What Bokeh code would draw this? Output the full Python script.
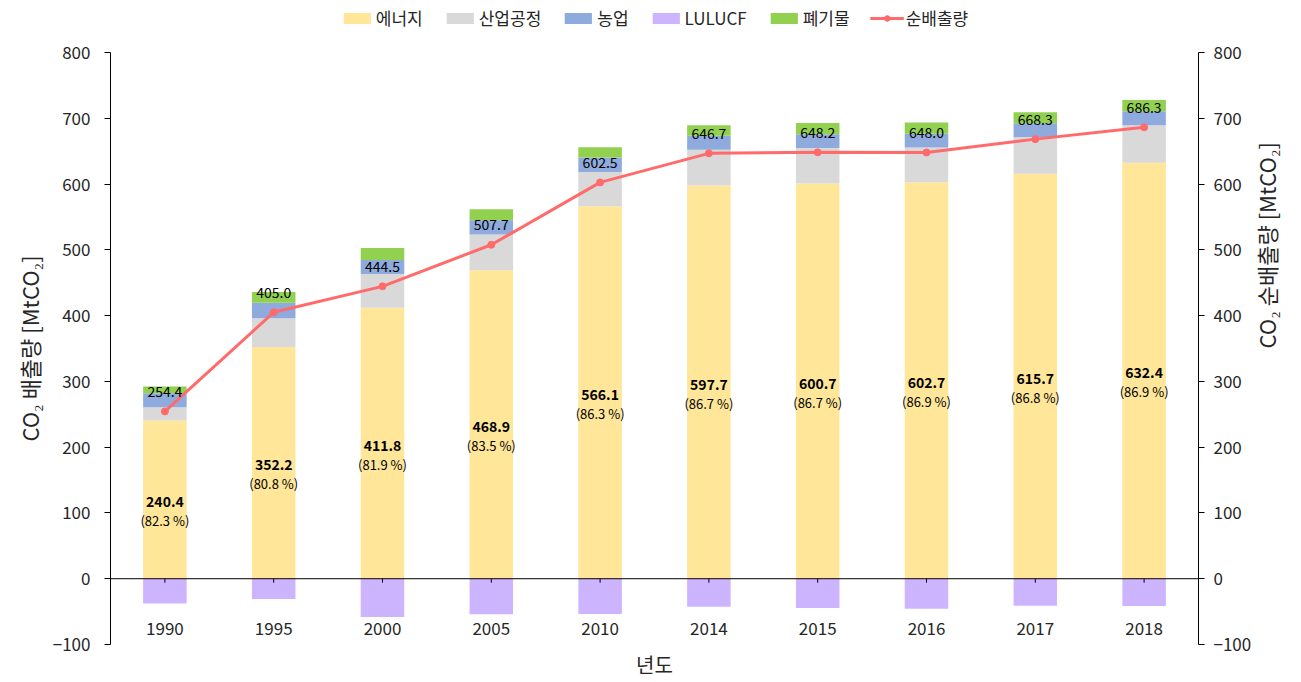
import math
from bokeh.plotting import figure
from bokeh.layouts import column
from bokeh.models import (FactorRange, Range1d, LinearAxis, Legend, LegendItem,
                          Span, ColumnDataSource, FixedTicker, Title)
from bokeh.core.properties import value
from bokeh.embed import file_html
from bokeh.resources import INLINE

years = ['1990', '1995', '2000', '2005', '2010', '2014', '2015', '2016', '2017', '2018']
energy = [240.4, 352.2, 411.8, 468.9, 566.1, 597.7, 600.7, 602.7, 615.7, 632.4]
industrial = [20.4, 43.9, 51.3, 54.5, 52.3, 54.6, 54.1, 52.8, 55.8, 57.0]
agriculture = [21.0, 23.6, 21.4, 21.7, 22.0, 21.3, 21.0, 20.8, 21.0, 21.2]
waste = [10.4, 16.2, 18.3, 16.5, 15.6, 15.8, 17.0, 17.3, 16.8, 17.1]
lulucf = [-37.8, -30.9, -58.3, -53.9, -53.5, -42.7, -44.6, -45.6, -41.0, -41.4]
net = [254.4, 405.0, 444.5, 507.7, 602.5, 646.7, 648.2, 648.0, 668.3, 686.3]
energy_share = [82.3, 80.8, 81.9, 83.5, 86.3, 86.7, 86.7, 86.9, 86.8, 86.9]
y_ticks = list(range(-100, 801, 100))
Y_MIN, Y_MAX = -100, 800

FONT = "Noto Sans CJK KR"
TXT = "#262626"
C_ENERGY, C_IND, C_AGRI, C_LULUCF, C_WASTE, C_NET = (
    "#FFE699", "#D9D9D9", "#8FAADC", "#CDB4FF", "#92D050", "#FF6B6B")

src = ColumnDataSource(dict(
    year=years, energy=energy, industrial=industrial, agriculture=agriculture,
    waste=waste, lulucf=lulucf, net=net,
    energy_mid=[e / 2 for e in energy],
    energy_txt=[f"{e:.1f}" for e in energy],
    share_txt=[f"({s:.1f} %)" for s in energy_share],
    net_txt=[f"{n:.1f}" for n in net],
    zero=[0] * len(years),
    tick_end=[-6] * len(years),
))

xr = FactorRange(*years)
p = figure(x_range=xr, y_range=Range1d(Y_MIN, Y_MAX),
           frame_width=1088, frame_height=592,
           output_backend="svg", toolbar_location=None,
           min_border_left=110, min_border_right=95, min_border_top=12,
           min_border_bottom=30)
p.extra_y_ranges = {"net": Range1d(Y_MIN, Y_MAX)}
p.xgrid.grid_line_color = None
p.ygrid.grid_line_color = None
p.outline_line_color = None
p.background_fill_color = "white"


def style_axis(ax, label_standoff, title_standoff):
    ax.ticker = FixedTicker(ticks=y_ticks)
    ax.axis_label_text_font = FONT
    ax.axis_label_text_font_size = "22px"
    ax.axis_label_text_font_style = "normal"
    ax.axis_label_text_color = TXT
    ax.axis_label_standoff = title_standoff
    ax.major_label_text_font = FONT
    ax.major_label_text_font_size = "17px"
    ax.major_label_text_color = TXT
    ax.major_tick_out = 6
    ax.major_tick_in = 0
    ax.minor_tick_out = 0
    ax.minor_tick_in = 0
    ax.major_label_standoff = label_standoff
    ax.axis_line_color = "black"
    ax.major_tick_line_color = "black"


ya = p.yaxis[0]
ya.axis_label = "CO₂ 배출량 [MtCO₂]"
style_axis(ya, 14, 5)

ra = LinearAxis(y_range_name="net", axis_label="CO₂ 순배출량 [MtCO₂]")
style_axis(ra, 9, 12)
ra.axis_label_orientation = math.pi / 2
p.add_layout(ra, "right")

p.xaxis.visible = False
p.add_layout(Title(text="년도", align="center", text_font=FONT,
                   text_font_size="20px", text_font_style="normal",
                   text_color=TXT, standoff=7), "below")

W = 0.4
stack = p.vbar_stack(["energy", "industrial", "agriculture", "waste"], x="year",
                     width=W, source=src,
                     color=[C_ENERGY, C_IND, C_AGRI, C_WASTE], line_color=None)
r_lulucf = p.vbar(x="year", top="zero", bottom="lulucf", width=W, source=src,
                  fill_color=C_LULUCF, line_color=None)

# category axis drawn at zero
p.add_layout(Span(location=0, dimension="width", line_color="black", line_width=1))
p.segment(x0="year", y0="zero", x1="year", y1="tick_end", source=src,
          line_color="black", line_width=1)
p.text(x="year", y="zero", text="year", source=src, y_offset=50,
       text_font=value(FONT), text_font_size="17px", text_color=TXT,
       text_align="center", text_baseline="middle")

r_line = p.line(x="year", y="net", source=src, line_color=C_NET, line_width=3)
r_pts = p.scatter(x="year", y="net", source=src, size=7, fill_color=C_NET,
                  line_color=C_NET)

p.text(x="year", y="energy_mid", text="energy_txt", source=src, y_offset=2,
       text_font=value(FONT), text_font_size="14px", text_font_style="bold",
       text_color="black", text_align="center", text_baseline="middle")
p.text(x="year", y="energy_mid", text="share_txt", source=src, y_offset=21,
       text_font=value(FONT), text_font_size="13px", text_color="black",
       text_align="center", text_baseline="middle")
p.text(x="year", y="net", text="net_txt", source=src, y_offset=-20,
       text_font=value(FONT), text_font_size="14px", text_color="black",
       text_align="center", text_baseline="middle")

# legend strip above the plot area (same horizontal frame as the chart);
# swatch renderers carry a single degenerate (zero-size) item so only the legend shows them
pl = figure(x_range=xr, y_range=Range1d(0, 1), frame_width=1088, frame_height=40,
            output_backend="svg", toolbar_location=None,
            min_border_left=110, min_border_right=95, min_border_top=0,
            min_border_bottom=0, x_axis_location=None, y_axis_location=None)
pl.xgrid.grid_line_color = None
pl.ygrid.grid_line_color = None
pl.outline_line_color = None
hidden_x = [years[0]]
sw = {}
for key, col in [("energy", C_ENERGY), ("industrial", C_IND), ("agriculture", C_AGRI),
                 ("lulucf", C_LULUCF), ("waste", C_WASTE)]:
    sw[key] = pl.vbar(x=hidden_x, top=[0], bottom=[0], width=0,
                      fill_color=col, line_color=None)
sw_line = pl.line(x=hidden_x, y=[5], line_color=C_NET, line_width=3)
sw_pts = pl.scatter(x=hidden_x, y=[5], size=7, fill_color=C_NET, line_color=C_NET)

legend = Legend(items=[
    LegendItem(label="에너지", renderers=[sw["energy"]]),
    LegendItem(label="산업공정", renderers=[sw["industrial"]]),
    LegendItem(label="농업", renderers=[sw["agriculture"]]),
    LegendItem(label="LULUCF", renderers=[sw["lulucf"]]),
    LegendItem(label="폐기물", renderers=[sw["waste"]]),
    LegendItem(label="순배출량", renderers=[sw_line, sw_pts]),
], orientation="horizontal", location="top_center")
legend.glyph_width = 34
legend.glyph_height = 14
legend.label_standoff = 2
legend.spacing = 20
legend.padding = 0
legend.margin = 5
legend.label_text_font = FONT
legend.label_text_font_size = "17px"
legend.label_text_color = TXT
legend.border_line_color = None
legend.background_fill_alpha = 0
pl.add_layout(legend)

layout = column(pl, p, spacing=0)
open("out.html", "w").write(file_html(layout, INLINE))
